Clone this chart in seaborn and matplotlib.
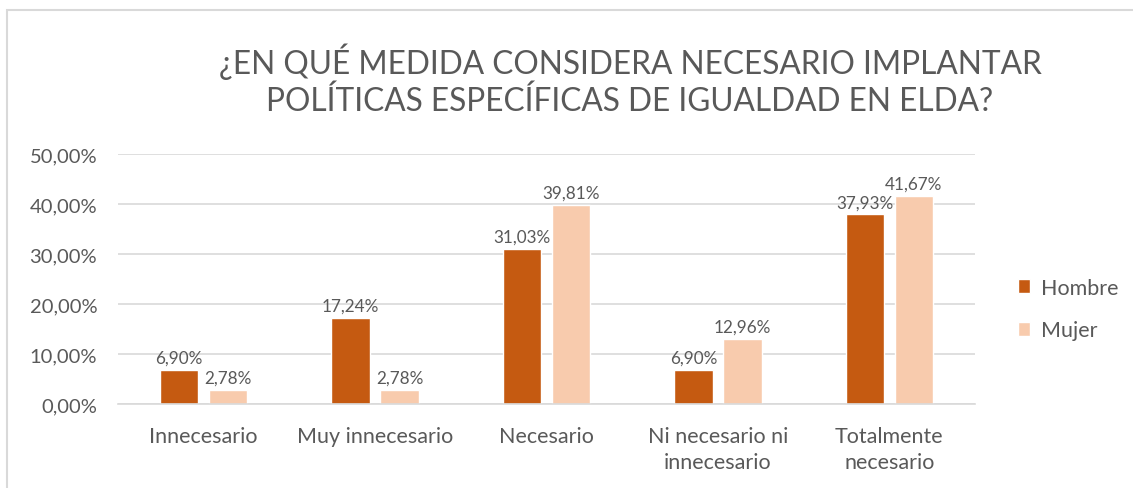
import seaborn as sns
import matplotlib.pyplot as plt
import matplotlib.patches as mpatches
import pandas as pd

# --- data ---
categories = ["Innecesario", "Muy innecesario", "Necesario",
              "Ni necesario ni\ninnecesario", "Totalmente\nnecesario"]
hombre = [6.90, 17.24, 31.03, 6.90, 37.93]
mujer = [2.78, 2.78, 39.81, 12.96, 41.67]
series_names = ["Hombre", "Mujer"]
y_ticks = [0, 10, 20, 30, 40, 50]

df = pd.DataFrame({
    "Categoria": categories * 2,
    "Sexo": [series_names[0]] * len(categories) + [series_names[1]] * len(categories),
    "Valor": hombre + mujer,
})

sns.set_style("white")
plt.rcParams['font.family'] = ['Lato', 'DejaVu Sans']
text_col = "#595959"
colors = {"Hombre": "#C55A11", "Mujer": "#F8CBAD"}

fig = plt.figure(figsize=(11.33, 4.89), dpi=100)
# chart frame (light grey border, cut at right/bottom like the screenshot)
fig.patches.append(mpatches.Rectangle((7 / 1133, -0.1), 1.2, 1 - 11 / 489 + 0.1,
                                      transform=fig.transFigure, fill=False,
                                      edgecolor="#D9D9D9", linewidth=1.5))

ax = fig.add_axes([118 / 1133, 1 - 405 / 489, (975 - 118) / 1133, 250 / 489])
sns.barplot(data=df, x="Categoria", y="Valor", hue="Sexo", palette=colors,
            width=0.572, gap=0.22, saturation=1, ax=ax, legend=True)

ax.set_ylim(0, 50)
ax.set_yticks(y_ticks)
ax.set_yticklabels([f"{t:.2f}%".replace(".", ",") for t in y_ticks],
                   color=text_col, fontsize=14.5)
ax.tick_params(axis="x", colors=text_col, labelsize=15.5, length=0, pad=16)
ax.tick_params(axis="y", length=0, pad=15)
for lbl in ax.get_xticklabels():
    lbl.set_linespacing(1.35)
ax.set_xlabel("")
ax.set_ylabel("")
ax.yaxis.grid(True, color="#D9D9D9", linewidth=1.2)
ax.set_axisbelow(True)
for s in ["top", "right", "left"]:
    ax.spines[s].set_visible(False)
ax.spines["bottom"].set_color("#D9D9D9")
ax.spines["bottom"].set_linewidth(1.2)

for cont in ax.containers:
    ax.bar_label(cont, labels=[f"{v:.2f}%".replace(".", ",") for v in cont.datavalues],
                 padding=3, fontsize=12.3, color=text_col)

ax.legend(loc="center left", bbox_to_anchor=(1.027, 0.38), frameon=False,
          fontsize=15.5, labelcolor=text_col, handlelength=0.6, handleheight=0.6,
          labelspacing=1.05, handletextpad=0.5)

title_lines = ["¿EN QUÉ MEDIDA CONSIDERA NECESARIO IMPLANTAR",
               "POLÍTICAS ESPECÍFICAS DE IGUALDAD EN ELDA?"]
for i, line in enumerate(title_lines):
    fig.text(630 / 1133, 1 - (62 + 40 * i) / 489, line,
             ha="center", va="center", fontsize=22.8, color=text_col)

fig.savefig("out.png", dpi=100)
